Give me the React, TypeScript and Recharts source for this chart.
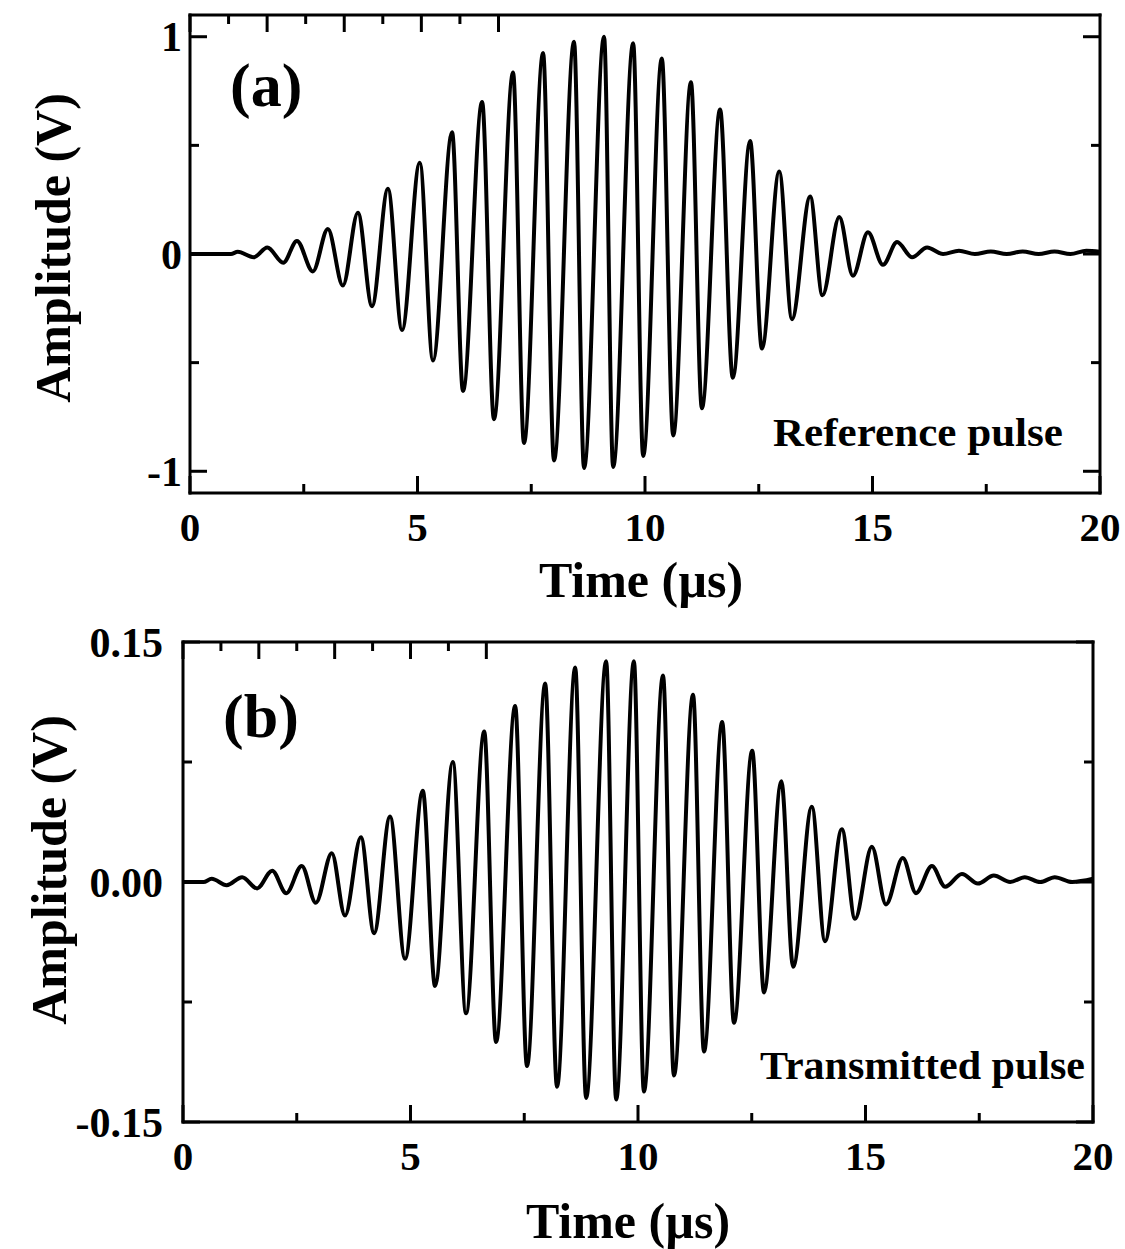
import React from 'react';
import { LineChart, Line, XAxis, YAxis } from 'recharts';

// ---- Data (extrema of the waveform) ----
// Panel (a): Reference pulse
const aTime = [
  0, 0.9, 1.05, 1.4, 1.7, 2.05, 2.35, 2.7, 3.03, 3.36, 3.69, 4.0, 4.35, 4.66,
  5.05, 5.34, 5.76, 6.0, 6.42, 6.68, 7.1, 7.34, 7.76, 8.0, 8.44, 8.66, 9.1,
  9.3, 9.74, 9.96, 10.37, 10.62, 11.01, 11.25, 11.65, 11.93, 12.31, 12.57,
  12.95, 13.23, 13.63, 13.9, 14.27, 14.57, 14.9, 15.23, 15.54, 15.87, 16.2,
  16.55, 16.9, 17.25, 17.6, 17.95, 18.3, 18.65, 19.0, 19.35, 19.7, 20,
];
const aAmp = [
  0, 0, 0.01, -0.015, 0.03, -0.04, 0.06, -0.08, 0.115, -0.145, 0.19, -0.24,
  0.3, -0.35, 0.42, -0.49, 0.56, -0.63, 0.7, -0.76, 0.835, -0.87, 0.925,
  -0.95, 0.977, -0.985, 1.0, -0.98, 0.97, -0.93, 0.9, -0.835, 0.79, -0.71,
  0.665, -0.57, 0.52, -0.435, 0.38, -0.3, 0.265, -0.19, 0.17, -0.1, 0.1,
  -0.05, 0.055, -0.015, 0.03, 0.0, 0.015, 0.0, 0.012, 0.0, 0.012, 0.0, 0.012,
  0.0, 0.015, 0.01,
];

// Panel (b): Transmitted pulse
const bTime = [
  0, 0.45, 0.63, 0.96, 1.3, 1.63, 1.96, 2.27, 2.61, 2.92, 3.27, 3.56, 3.91,
  4.2, 4.55, 4.88, 5.27, 5.54, 5.93, 6.22, 6.62, 6.88, 7.3, 7.56, 7.96, 8.22,
  8.62, 8.86, 9.3, 9.52, 9.91, 10.13, 10.55, 10.79, 11.21, 11.45, 11.85,
  12.11, 12.51, 12.77, 13.15, 13.41, 13.82, 14.11, 14.48, 14.77, 15.14,
  15.45, 15.82, 16.11, 16.46, 16.75, 17.12, 17.47, 17.82, 18.18, 18.5, 18.84,
  19.16, 19.54, 20,
];
const bAmp = [
  0, 0, 0.002, -0.002, 0.003, -0.004, 0.007, -0.007, 0.01, -0.013, 0.018,
  -0.021, 0.028, -0.032, 0.041, -0.048, 0.057, -0.065, 0.075, -0.082, 0.094,
  -0.1, 0.11, -0.115, 0.124, -0.128, 0.134, -0.135, 0.138, -0.136, 0.138,
  -0.131, 0.129, -0.121, 0.117, -0.106, 0.1, -0.088, 0.082, -0.069, 0.063,
  -0.053, 0.047, -0.037, 0.033, -0.023, 0.022, -0.014, 0.015, -0.007, 0.01,
  -0.003, 0.005, -0.001, 0.004, 0.0, 0.003, 0.0, 0.003, 0.0, 0.002,
];

// Axis ticks
const xTicks = [0, 2.5, 5, 7.5, 10, 12.5, 15, 17.5, 20];
const xMajor = [0, 5, 10, 15, 20];
const aYTicks = [-1, -0.5, 0, 0.5, 1];
const aYMajor = [-1, 0, 1];
const bYTicks = [-0.15, -0.075, 0, 0.075, 0.15];
const bYMajor = [-0.15, 0, 0.15];

const FONT = '"Liberation Serif", "Times New Roman", Times, serif';

const aData = aTime.map((t, i) => ({ t, v: aAmp[i] }));
const bData = bTime.map((t, i) => ({ t, v: bAmp[i] }));

type Side = 'bottom' | 'top' | 'left' | 'right';

function makeTick(
  side: Side,
  majors: number[],
  fmt: ((v: number) => string) | null,
  labelGap: number,
  fontSize: number
) {
  return (props: any) => {
    const { x, y, payload } = props;
    const v = payload.value as number;
    const major = majors.some((m) => Math.abs(m - v) < 1e-9);
    const len = major ? 17 : 9;
    let x2 = x;
    let y2 = y;
    if (side === 'bottom') y2 = y - len;
    if (side === 'top') y2 = y + len;
    if (side === 'left') x2 = x + len;
    if (side === 'right') x2 = x - len;
    let label = null;
    if (fmt && major) {
      if (side === 'bottom') {
        label = (
          <text x={x} y={y + labelGap} textAnchor="middle" fontFamily={FONT} fontWeight="bold" fontSize={fontSize} fill="#000">
            {fmt(v)}
          </text>
        );
      } else if (side === 'left') {
        label = (
          <text x={x - labelGap} y={y} dy="0.35em" textAnchor="end" fontFamily={FONT} fontWeight="bold" fontSize={fontSize} fill="#000">
            {fmt(v)}
          </text>
        );
      }
    }
    return (
      <g>
        <line x1={x} y1={y} x2={x2} y2={y2} stroke="#000" strokeWidth={3} />
        {label}
      </g>
    );
  };
}

const axisLine = { stroke: '#000', strokeWidth: 3, strokeLinecap: 'square' as const };

function Panel(props: {
  data: { t: number; v: number }[];
  width: number;
  height: number;
  margin: { top: number; right: number; bottom: number; left: number };
  yDomain: [number, number];
  yTicks: number[];
  yMajor: number[];
  yFmt: (v: number) => string;
  yGap: number;
}) {
  const { data, width, height, margin, yDomain, yTicks, yMajor, yFmt, yGap } = props;
  return (
    <LineChart width={width} height={height} data={data} margin={margin}>
      <XAxis
        dataKey="t"
        type="number"
        domain={[0, 20]}
        ticks={xTicks}
        interval={0}
        height={1}
        tickSize={0}
        tickMargin={0}
        axisLine={axisLine}
        tickLine={false}
        tick={makeTick('bottom', xMajor, (v) => String(v), 48, 41)}
        allowDataOverflow
      />
      <XAxis
        xAxisId="top"
        orientation="top"
        type="number"
        domain={[0, 20]}
        ticks={xTicks}
        interval={0}
        height={1}
        tickSize={0}
        tickMargin={0}
        axisLine={axisLine}
        tickLine={false}
        tick={makeTick('top', xMajor, null, 0, 0)}
        allowDataOverflow
      />
      <YAxis
        type="number"
        domain={yDomain}
        ticks={yTicks}
        interval={0}
        width={1}
        tickSize={0}
        tickMargin={0}
        axisLine={axisLine}
        tickLine={false}
        tick={makeTick('left', yMajor, yFmt, yGap, 42)}
        allowDataOverflow
      />
      <YAxis
        yAxisId="right"
        orientation="right"
        type="number"
        domain={yDomain}
        ticks={yTicks}
        interval={0}
        width={1}
        tickSize={0}
        tickMargin={0}
        axisLine={axisLine}
        tickLine={false}
        tick={makeTick('right', yMajor, null, 0, 0)}
        allowDataOverflow
      />
      <Line
        type="monotone"
        dataKey="v"
        stroke="#000"
        strokeWidth={4}
        dot={false}
        activeDot={false}
        isAnimationActive={false}
      />
    </LineChart>
  );
}

const textStyle = { fontFamily: FONT, fontWeight: 'bold' as const, fill: '#000' };

export default function App() {
  return (
    <div style={{ position: 'absolute', left: 0, top: 0, width: 1125, height: 1249, background: '#fff' }}>
      <div style={{ position: 'absolute', left: 0, top: 0 }}>
        <Panel
          data={aData}
          width={1125}
          height={620}
          margin={{ top: 14, right: 24, bottom: 126, left: 189 }}
          yDomain={[-1.1, 1.1]}
          yTicks={aYTicks}
          yMajor={aYMajor}
          yFmt={(v) => String(v)}
          yGap={8}
        />
      </div>
      <div style={{ position: 'absolute', left: 0, top: 620 }}>
        <Panel
          data={bData}
          width={1125}
          height={629}
          margin={{ top: 21, right: 31, bottom: 126, left: 182 }}
          yDomain={[-0.15, 0.15]}
          yTicks={bYTicks}
          yMajor={bYMajor}
          yFmt={(v) => v.toFixed(2)}
          yGap={20}
        />
      </div>
      <svg
        width={1125}
        height={1249}
        style={{ position: 'absolute', left: 0, top: 0, pointerEvents: 'none' }}
      >
        <text x={230} y={106} fontSize={62} {...textStyle}>(a)</text>
        <text x={773} y={446} fontSize={40} textLength={290} lengthAdjust="spacingAndGlyphs" {...textStyle}>
          Reference pulse
        </text>
        <text x={641} y={597} fontSize={50} textAnchor="middle" {...textStyle}>Time (µs)</text>
        <text transform="translate(70,248) rotate(-90)" fontSize={50} textAnchor="middle" {...textStyle}>
          Amplitude (V)
        </text>

        <text x={223} y={737} fontSize={62} {...textStyle}>(b)</text>
        <text x={760} y={1079} fontSize={40} textLength={325} lengthAdjust="spacingAndGlyphs" {...textStyle}>
          Transmitted pulse
        </text>
        <text x={628} y={1238} fontSize={50} textAnchor="middle" {...textStyle}>Time (µs)</text>
        <text transform="translate(66,870) rotate(-90)" fontSize={50} textAnchor="middle" {...textStyle}>
          Amplitude (V)
        </text>
      </svg>
    </div>
  );
}
